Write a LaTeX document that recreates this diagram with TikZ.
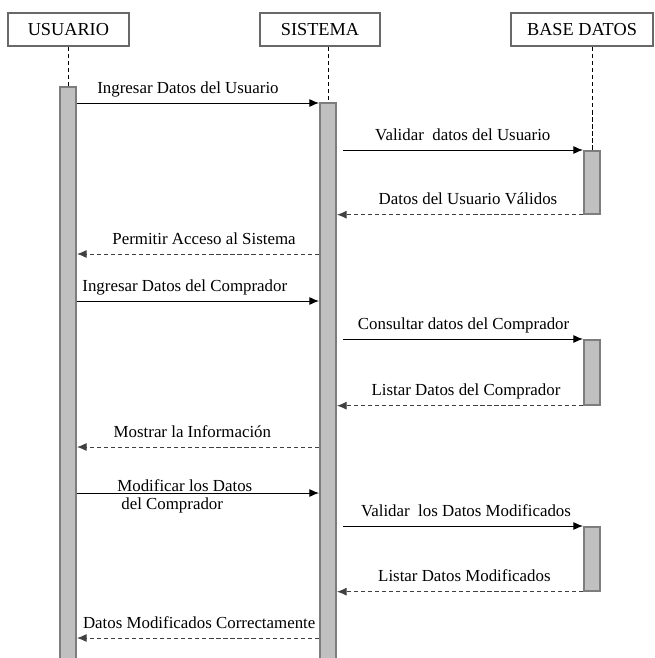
\documentclass[tikz,border=0pt]{standalone}
\usepackage{fontspec}
\setmainfont{Liberation Serif}
\usetikzlibrary{positioning,arrows.meta}
\definecolor{barfill}{RGB}{192,192,192}
\definecolor{barline}{RGB}{125,125,125}
\definecolor{boxline}{RGB}{105,105,105}
\tikzstyle{msg} = [semithick,-{Latex[length=2.4mm,width=2mm]}]
\tikzstyle{reply} = [msg, draw=black!75, dash pattern=on 3pt off 2pt]
\tikzset{
 actor/.style
  = {rectangle, draw=boxline, line width=1.2pt, minimum height=0.83cm,
     font=\fontsize{13}{15}\selectfont},
 bar/.style
  = {rectangle, draw=barline, fill=barfill, line width=1.2pt,
     minimum width=0.41cm, inner sep=0pt, anchor=north},
 lifeline/.style
  = {draw, thin, dash pattern=on 3pt off 2pt},
 txt/.style
  = {font=\fontsize{12}{14}\selectfont},
 lbl/.style
  = {txt, midway, anchor=base, yshift=0.25cm},
}

\begin{document}
\begin{tikzpicture}
\useasboundingbox[fill=white] (0,0) rectangle (16.375,-16.45);

% Heads
\node[actor, minimum width=3.03cm] (usr) at (1.71,-0.74) {USUARIO};
\node[actor, minimum width=3cm] (sis) at (8.0,-0.74) {SISTEMA};
\node[actor, minimum width=3.55cm] (bd) at (14.55,-0.74) {BASE DATOS};

% Activation bars
\node[bar, minimum height=14.7cm] (usrbar) at (1.7,-2.15) {};
\node[bar, minimum height=14.3cm] (sisbar) at (8.2,-2.55) {};
\node[bar, minimum height=1.575cm] (bdA) at (14.8,-3.75) {};
\node[bar, minimum height=1.625cm] (bdB) at (14.8,-8.475) {};
\node[bar, minimum height=1.6cm] (bdC) at (14.8,-13.15) {};

% Lifelines
\draw[lifeline] (usrbar.north |- usr.south) -- (usrbar.north);
\draw[lifeline] (sisbar.north |- sis.south) -- (sisbar.north);
\draw[lifeline] (bdA.north |- bd.south) -- (bdA.north);

% Message rows
\coordinate (m1) at (0,-2.575);
\coordinate (m4) at (0,-6.35);
\coordinate (m5) at (0,-7.525);
\coordinate (m8) at (0,-11.175);
\coordinate (m9) at (0,-12.325);
\coordinate (m12) at (0,-15.95);

% Login
\draw[msg] (usrbar.east |- m1) -- (sisbar.west |- m1)
  node[lbl, xshift=-0.25cm] {Ingresar Datos del Usuario};
\draw[msg, shorten <=1.5mm] (sisbar.east |- bdA.north) -- (bdA.north west)
  node[lbl, xshift=0.07cm] {Validar\ \ datos del Usuario};
\draw[reply] (bdA.south west) -- (sisbar.east |- bdA.south)
  node[lbl, xshift=0.2cm] {Datos del Usuario Válidos};
\draw[reply] (sisbar.west |- m4) -- (usrbar.east |- m4)
  node[lbl, xshift=0.15cm] {Permitir Acceso al Sistema};

% Query
\draw[msg] (usrbar.east |- m5) -- (sisbar.west |- m5)
  node[lbl, xshift=-0.33cm] {Ingresar Datos del Comprador};
\draw[msg, shorten <=1.5mm] (sisbar.east |- bdB.north) -- (bdB.north west)
  node[lbl, xshift=0.09cm] {Consultar datos del Comprador};
\draw[reply] (bdB.south west) -- (sisbar.east |- bdB.south)
  node[lbl, xshift=0.15cm] {Listar Datos del Comprador};
\draw[reply] (sisbar.west |- m8) -- (usrbar.east |- m8)
  node[lbl, xshift=-0.14cm] {Mostrar la Información};

% Update
\draw[msg] (usrbar.east |- m9) -- (sisbar.west |- m9)
  node[txt, midway, align=left, xshift=-0.33cm, yshift=-0.075cm]
  {Modificar los Datos\\[-1pt]\hspace*{1mm}del Comprador};
\draw[msg, shorten <=1.5mm] (sisbar.east |- bdC.north) -- (bdC.north west)
  node[lbl, xshift=0.15cm] {Validar\ \ los Datos Modificados};
\draw[reply] (bdC.south west) -- (sisbar.east |- bdC.south)
  node[lbl, xshift=0.11cm] {Listar Datos Modificados};
\draw[reply] (sisbar.west |- m12) -- (usrbar.east |- m12)
  node[lbl, xshift=0.03cm] {Datos Modificados Correctamente};

\end{tikzpicture}
\end{document}
